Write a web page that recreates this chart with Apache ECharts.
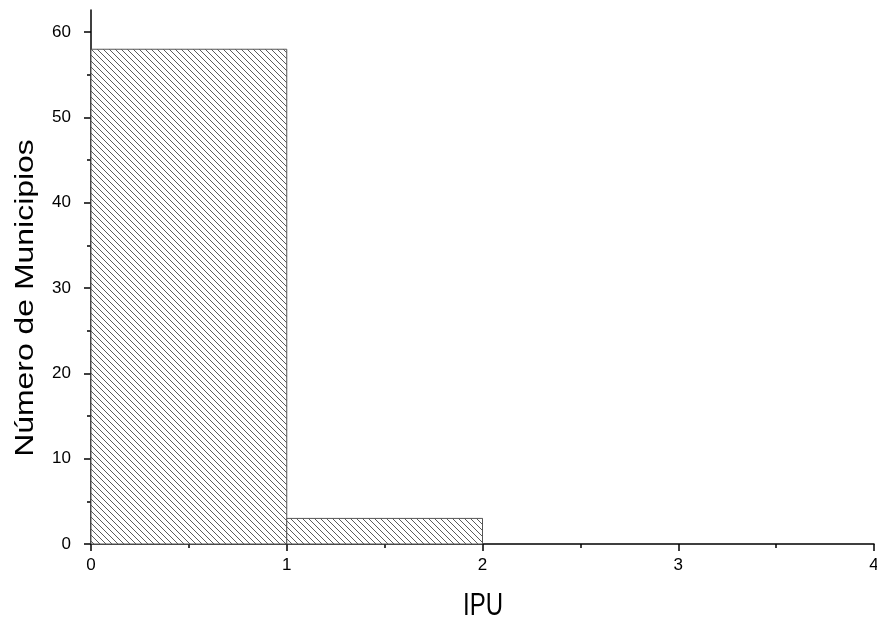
<!DOCTYPE html>
<html>
<head>
<meta charset="utf-8">
<script src="https://cdn.jsdelivr.net/npm/echarts@6/dist/echarts.min.js"></script>
<style>html,body{margin:0;padding:0;background:#fff;}#c{width:877px;height:620px;}</style>
</head>
<body>
<div id="c"></div>
<script>
var binStarts = [0, 1, 2, 3];
var binEnds = [1, 2, 3, 4];
var counts = [58, 3, 0, 0];
var xMajorTicks = [0, 1, 2, 3, 4];
var xMinorTicks = [0.5, 1.5, 2.5, 3.5];
var yMajorTicks = [0, 10, 20, 30, 40, 50, 60];
var yMinorTicks = [5, 15, 25, 35, 45, 55];
var xTitle = 'IPU';
var yTitle = 'Número de Municipios';

function makeHatch() {
  var c = document.createElement('canvas');
  var s = 6;
  c.width = s; c.height = s;
  var g = c.getContext('2d');
  g.fillStyle = '#ffffff';
  g.fillRect(0, 0, s, s);
  g.strokeStyle = '#4a4a4a';
  g.lineWidth = 0.9;
  g.beginPath();
  g.moveTo(-1, -1); g.lineTo(s + 1, s + 1);
  g.moveTo(-1, s - 1); g.lineTo(1, s + 1);
  g.moveTo(s - 1, -1); g.lineTo(s + 1, 1);
  g.stroke();
  return c;
}
var hatch = makeHatch();

var data = [];
for (var i = 0; i < counts.length; i++) {
  data.push([binStarts[i], binEnds[i], counts[i]]);
}

var font = 'Liberation Sans, Arial, sans-serif';
var chart = echarts.init(document.getElementById('c'));
var xBase = {type: 'value', min: 0, max: 4, splitLine: {show: false}};
var yBase = {type: 'value', min: 0, max: 62.6, splitLine: {show: false}};
chart.setOption({
  animation: false,
  grid: {left: 91, right: 3, top: 10, bottom: 76, outerBoundsMode: 'none', containLabel: false},
  xAxis: [
    Object.assign({}, xBase, {
      position: 'bottom',
      axisLine: {show: true, lineStyle: {color: '#000', width: 1.5}},
      axisTick: {show: true, customValues: xMajorTicks, length: 7, lineStyle: {color: '#000', width: 1.5}},
      axisLabel: {customValues: xMajorTicks, fontFamily: font, fontSize: 17, color: '#000', margin: 13}
    }),
    Object.assign({}, xBase, {
      position: 'bottom',
      axisLine: {show: false},
      axisTick: {show: true, customValues: xMinorTicks, length: 4, lineStyle: {color: '#000', width: 1.5}},
      axisLabel: {show: false}
    })
  ],
  yAxis: [
    Object.assign({}, yBase, {
      position: 'left',
      axisLine: {show: true, lineStyle: {color: '#000', width: 1.5}},
      axisTick: {show: true, customValues: yMajorTicks, length: 7, lineStyle: {color: '#000', width: 1.5}},
      axisLabel: {customValues: yMajorTicks, fontFamily: font, fontSize: 17, color: '#000', margin: 20}
    }),
    Object.assign({}, yBase, {
      position: 'left',
      axisLine: {show: false},
      axisTick: {show: true, customValues: yMinorTicks, length: 4, lineStyle: {color: '#000', width: 1.5}},
      axisLabel: {show: false}
    })
  ],
  graphic: [
    {
      type: 'text', x: 483, y: 606, scaleY: 1.3,
      style: {text: xTitle, fontFamily: font, fontSize: 24, fill: '#000', align: 'center', verticalAlign: 'middle'}
    },
    {
      type: 'text', x: 26, y: 298, rotation: Math.PI / 2, scaleX: 1.33, scaleY: 1.1,
      style: {text: yTitle, fontFamily: font, fontSize: 24, fill: '#000', align: 'center', verticalAlign: 'middle'}
    }
  ],
  series: [{
    type: 'custom',
    xAxisIndex: 0, yAxisIndex: 0,
    encode: {x: [0, 1], y: 2},
    data: data,
    renderItem: function (params, api) {
      var v = api.value(2);
      if (!v) return null;
      var p0 = api.coord([api.value(0), v]);
      var p1 = api.coord([api.value(1), 0]);
      return {
        type: 'rect',
        shape: {x: p0[0], y: p0[1], width: p1[0] - p0[0], height: p1[1] - p0[1]},
        style: {fill: {image: hatch, repeat: 'repeat'}, stroke: '#555555', lineWidth: 1}
      };
    },
    z: 1
  }]
});
</script>
</body>
</html>
